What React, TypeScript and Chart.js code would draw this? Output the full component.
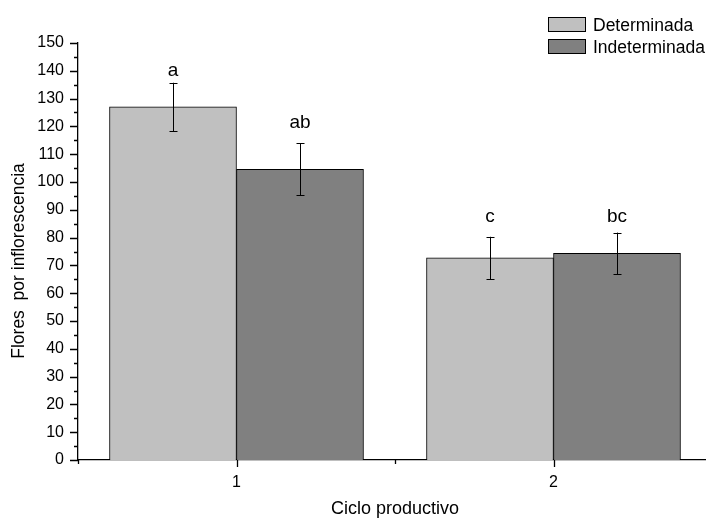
import { useEffect, useRef } from "react";
import { Chart, registerables } from "chart.js";

Chart.register(...registerables);

// Productive cycles on the x axis
const cycles = [1, 2];
const seriesNames = ["Determinada", "Indeterminada"];

// Mean flowers per inflorescence and their error bars
const determinada = [127, 72.7];
const indeterminada = [104.6, 74.3];
const determinadaErr = [8.7, 7.6];
const indeterminadaErr = [9.3, 7.5];

// Significance letters and the value at which each one sits
const determinadaLetters = ["a", "c"];
const indeterminadaLetters = ["ab", "bc"];
const determinadaLetterAt = [138, 85.5];
const indeterminadaLetterAt = [119.3, 85.5];

// Axis ranges and tick values
const yMin = 0;
const yMax = 150;
const yStep = 10;
const xMin = 0.5;
const xMax = 2.5;
const xTickValues = [0.5, 1, 1.5, 2, 2.5];

const seriesColors = ["#c0c0c0", "#808080"];
const FONT = "'Liberation Sans', Arial, Helvetica, sans-serif";

const errorBarsPlugin = {
  id: "errorBars",
  afterDatasetsDraw(chart: any) {
    const { ctx, scales } = chart;
    const y = scales.y;
    const errs = [determinadaErr, indeterminadaErr];
    const letters = [determinadaLetters, indeterminadaLetters];
    const letterAt = [determinadaLetterAt, indeterminadaLetterAt];
    const values = [determinada, indeterminada];
    ctx.save();
    ctx.strokeStyle = "#000";
    ctx.fillStyle = "#000";
    ctx.lineWidth = 1;
    chart.data.datasets.forEach((_ds: any, di: number) => {
      const meta = chart.getDatasetMeta(di);
      meta.data.forEach((bar: any, i: number) => {
        const v = values[di][i];
        const e = errs[di][i];
        const x = Math.round(bar.x) + 0.5;
        const top = y.getPixelForValue(v + e);
        const bot = y.getPixelForValue(v - e);
        ctx.beginPath();
        ctx.moveTo(x, top);
        ctx.lineTo(x, bot);
        ctx.moveTo(x - 4, Math.round(top) + 0.5);
        ctx.lineTo(x + 4, Math.round(top) + 0.5);
        ctx.moveTo(x - 4, Math.round(bot) + 0.5);
        ctx.lineTo(x + 4, Math.round(bot) + 0.5);
        ctx.stroke();
        ctx.font = `19px ${FONT}`;
        ctx.textAlign = "center";
        ctx.textBaseline = "alphabetic";
        ctx.fillText(letters[di][i], bar.x, y.getPixelForValue(letterAt[di][i]));
      });
    });
    ctx.restore();
  },
};

const axisTicksPlugin = {
  id: "axisTicks",
  afterDraw(chart: any) {
    const { ctx, scales, chartArea } = chart;
    const x = scales.x;
    const y = scales.y;
    ctx.save();
    ctx.strokeStyle = "#000";
    ctx.lineWidth = 1.3;
    ctx.beginPath();
    for (let v = yMin; v <= yMax; v += yStep / 2) {
      const py = Math.round(y.getPixelForValue(v)) + 0.5;
      const len = v % yStep === 0 ? 8 : 4;
      ctx.moveTo(chartArea.left - len, py);
      ctx.lineTo(chartArea.left, py);
    }
    xTickValues.forEach((v) => {
      const px = Math.round(x.getPixelForValue(v)) + 0.5;
      const len = Number.isInteger(v) ? 7 : 4;
      ctx.moveTo(px, chartArea.bottom);
      ctx.lineTo(px, chartArea.bottom + len);
    });
    ctx.stroke();

    // y axis title
    ctx.fillStyle = "#000";
    ctx.font = `17.5px ${FONT}`;
    ctx.textAlign = "center";
    ctx.textBaseline = "middle";
    ctx.translate(19, 261);
    ctx.rotate(-Math.PI / 2);
    ctx.fillText("Flores  por inflorescencia", 0, 0);
    ctx.restore();
  },
};

const legendPlugin = {
  id: "boxLegend",
  afterDraw(chart: any) {
    const { ctx } = chart;
    ctx.save();
    ctx.font = `17.5px ${FONT}`;
    ctx.textAlign = "left";
    ctx.textBaseline = "alphabetic";
    seriesNames.forEach((name, i) => {
      const top = 17 + i * 22;
      ctx.fillStyle = seriesColors[i];
      ctx.fillRect(548, top, 38, 15);
      ctx.strokeStyle = "#000";
      ctx.lineWidth = 1;
      ctx.strokeRect(548.5, top + 0.5, 37, 14);
      ctx.fillStyle = "#000";
      ctx.fillText(name, 593, top + 13.5);
    });
    ctx.restore();
  },
};

export default function App() {
  const canvasRef = useRef<HTMLCanvasElement | null>(null);

  useEffect(() => {
    const canvas = canvasRef.current;
    if (!canvas) return;
    const chart = new Chart(canvas, {
      type: "bar",
      data: {
        datasets: [
          {
            label: seriesNames[0],
            data: cycles.map((c, i) => ({ x: c, y: determinada[i] })),
            backgroundColor: seriesColors[0],
            borderColor: "#000",
            borderWidth: 1,
            barThickness: 127,
          },
          {
            label: seriesNames[1],
            data: cycles.map((c, i) => ({ x: c, y: indeterminada[i] })),
            backgroundColor: seriesColors[1],
            borderColor: "#000",
            borderWidth: 1,
            barThickness: 127,
          },
        ],
      },
      options: {
        responsive: false,
        animation: false,
        devicePixelRatio: 1,
        layout: { padding: { top: 43, left: 0, right: 0, bottom: 0 } },
        plugins: {
          legend: { display: false },
          tooltip: { enabled: false },
        },
        scales: {
          x: {
            type: "linear",
            min: xMin,
            max: xMax,
            offset: false,
            grid: { display: false, drawTicks: false },
            border: { display: true, color: "#000", width: 1.3 },
            afterBuildTicks: (scale: any) => {
              scale.ticks = xTickValues.map((v) => ({ value: v }));
            },
            afterFit: (scale: any) => {
              scale.height = 58;
              scale.paddingLeft = 0;
              scale.paddingRight = 0;
            },
            ticks: {
              autoSkip: false,
              maxRotation: 0,
              padding: 13,
              color: "#000",
              font: { family: FONT, size: 16 },
              callback: (v: any) => (cycles.includes(Number(v)) ? String(v) : ""),
            },
            title: {
              display: true,
              text: "Ciclo productivo",
              color: "#000",
              font: { family: FONT, size: 18, lineHeight: 1 },
              padding: { top: 0, bottom: 0 },
            },
          },
          y: {
            min: yMin,
            max: yMax,
            grid: { display: false, drawTicks: false },
            border: { display: true, color: "#000", width: 1.3 },
            afterFit: (scale: any) => {
              scale.width = 78;
            },
            ticks: {
              stepSize: yStep,
              padding: 14,
              color: "#000",
              font: { family: FONT, size: 16 },
            },
          },
        },
      },
      plugins: [errorBarsPlugin, axisTicksPlugin, legendPlugin],
    });
    return () => chart.destroy();
  }, []);

  return (
    <div
      style={{
        position: "absolute",
        left: 0,
        top: 0,
        width: 706,
        height: 518,
        overflow: "hidden",
        background: "#fff",
      }}
    >
      <canvas
        ref={canvasRef}
        width={712}
        height={518}
        style={{ display: "block", width: 712, height: 518 }}
      />
    </div>
  );
}
